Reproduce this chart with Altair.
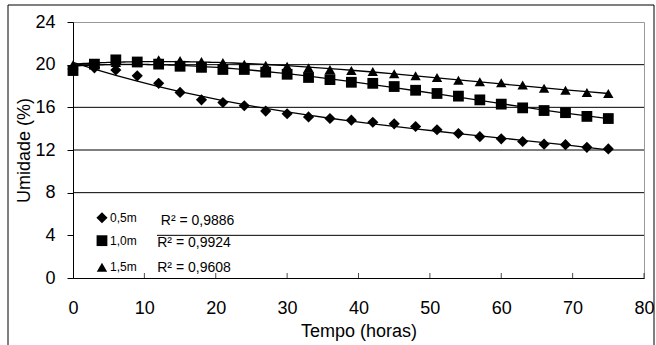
import altair as alt
import pandas as pd

# ---------------- data ----------------
hours = list(range(0, 76, 3))
u05 = [19.6, 19.7, 19.5, 18.95, 18.25, 17.4, 16.7, 16.45, 16.15, 15.65, 15.4, 15.1, 14.95,
       14.8, 14.6, 14.45, 14.2, 13.9, 13.55, 13.25, 13.05, 12.8, 12.55, 12.5, 12.25, 12.1]
u10 = [19.45, 20.05, 20.45, 20.25, 20.05, 19.85, 19.75, 19.55, 19.55, 19.3, 19.1, 18.8, 18.6,
       18.35, 18.25, 17.95, 17.6, 17.3, 17.05, 16.7, 16.3, 15.95, 15.7, 15.5, 15.15, 14.95]
u15 = [20.0, 20.1, 20.2, 20.3, 20.45, 20.4, 20.3, 20.2, 20.05, 19.95, 19.85, 19.7, 19.55,
       19.45, 19.35, 19.15, 18.95, 18.8, 18.55, 18.4, 18.3, 18.1, 17.8, 17.6, 17.4, 17.3]
series_names = ["0,5m", "1,0m", "1,5m"]
series_shapes = ["diamond", "square", "triangle-up"]
r2_labels = ["R\u00b2 = 0,9886", "R\u00b2 = 0,9924", "R\u00b2 = 0,9608"]
r2_x = [12.3, 11.8, 11.8]
r2_y = [5.35, 3.3, 0.95]
# legend entries placed inside the plot (data units)
legend_sym_x = [4.06, 4.06, 4.06]
legend_lab_x = [5.2, 5.2, 5.2]
legend_y = [5.65, 3.5, 1.0]
grid_values = [4, 8, 12, 16, 20]
x_tick_values = [0, 10, 20, 30, 40, 50, 60, 70, 80]
x_inner_ticks = [10, 20, 30, 40, 50, 60, 70, 80]
y_tick_values = [0, 4, 8, 12, 16, 20, 24]

FONT = "Liberation Sans"

df = pd.DataFrame({
    "hora": hours * 3,
    "umidade": u05 + u10 + u15,
    "serie": [series_names[0]] * len(hours) + [series_names[1]] * len(hours) + [series_names[2]] * len(hours),
})
df_r2 = pd.DataFrame({"hora": r2_x, "umidade": r2_y, "label": r2_labels})
df_leg_sym = pd.DataFrame({"hora": legend_sym_x, "umidade": legend_y, "serie": series_names})
df_leg_lab = pd.DataFrame({"hora": legend_lab_x, "umidade": legend_y, "serie": series_names})
df_grid = pd.DataFrame({"umidade": grid_values})
df_ticks = pd.DataFrame({"hora": x_inner_ticks, "umidade": [0] * len(x_inner_ticks)})
df_one = pd.DataFrame({"a": [0]})

xscale = alt.Scale(domain=[0, 80], nice=False, zero=False)
yscale = alt.Scale(domain=[0, 24], nice=False)
shape_scale = alt.Scale(domain=series_names, range=series_shapes)
size_scale = alt.Scale(domain=series_names, range=[125, 108, 120])

xaxis = alt.Axis(
    title="Tempo (horas)", values=x_tick_values, ticks=False, tickSize=0, grid=False,
    labelFontSize=18, labelFont=FONT, labelColor="black", labelPadding=21, labelFlush=False,
    titleFontSize=18, titleFont=FONT, titleColor="black", titleFontWeight="normal", titlePadding=5,
    domainColor="black", domainWidth=1, format="d")
yaxis = alt.Axis(
    title="Umidade (%)", values=y_tick_values, grid=False, ticks=True, tickSize=6, tickColor="black",
    labelFontSize=18, labelFont=FONT, labelColor="black", labelPadding=12,
    titleFontSize=18, titleFont=FONT, titleColor="black", titleFontWeight="normal", titlePadding=1,
    domainColor="black", domainWidth=1, format="d")

X = alt.X("hora:Q", scale=xscale, axis=xaxis)
Y = alt.Y("umidade:Q", scale=yscale, axis=yaxis)

# ---------------- layers ----------------
frame = alt.Chart(df_one).mark_rect(fillOpacity=0, stroke="black", strokeWidth=1).encode(
    x=alt.value(-65), x2=alt.value(581), y=alt.value(-17), y2=alt.value(335)
)

grid = alt.Chart(df_grid).mark_rule(color="black", strokeWidth=1).encode(y=Y)

legend_box = alt.Chart(df_one).mark_rect(fill="white").encode(
    x=alt.value(1), x2=alt.value(84), y=alt.value(178), y2=alt.value(250)
)

ticks = alt.Chart(df_ticks).mark_tick(orient="vertical", size=5, thickness=1, color="black", yOffset=-2.5).encode(
    x=X, y=Y
)

trend = alt.Chart(df).transform_regression(
    "hora", "umidade", groupby=["serie"], method="poly", order=3
).mark_line(color="black").encode(
    x=X, y=Y,
    detail="serie:N",
    strokeWidth=alt.StrokeWidth("serie:N", scale=alt.Scale(domain=series_names, range=[1.3, 1.3, 2.0]), legend=None),
)

points = alt.Chart(df).mark_point(filled=True, opacity=1, color="black").encode(
    x=X, y=Y,
    shape=alt.Shape("serie:N", scale=shape_scale, legend=None),
    size=alt.Size("serie:N", scale=size_scale, legend=None),
)

leg_sym = alt.Chart(df_leg_sym).mark_point(filled=True, opacity=1, color="black").encode(
    x=X, y=Y,
    shape=alt.Shape("serie:N", scale=shape_scale, legend=None),
    size=alt.Size("serie:N", scale=size_scale, legend=None),
)

leg_lab = alt.Chart(df_leg_lab).mark_text(align="left", baseline="middle", fontSize=12, font=FONT, color="black").encode(
    x=X, y=Y, text="serie:N",
)

r2 = alt.Chart(df_r2).mark_text(align="left", baseline="middle", fontSize=14, font=FONT, color="black").encode(
    x=X, y=Y, text="label:N",
)

chart = alt.layer(frame, grid, legend_box, ticks, trend, points, leg_sym, leg_lab, r2).properties(
    width=571, height=256,
    autosize=alt.AutoSizeParams(type="none"),
    padding={"left": 73, "top": 22, "right": 12, "bottom": 67},
    background="white",
).configure_view(stroke="#999999", strokeWidth=1)

chart.save("out.html", embed_options={"renderer": "svg", "actions": False})
